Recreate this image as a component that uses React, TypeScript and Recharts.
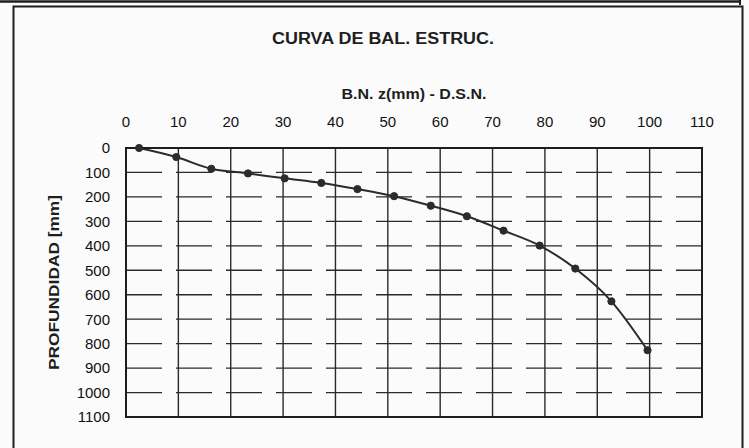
import {
  LineChart,
  Line,
  XAxis,
  YAxis,
  CartesianGrid,
  ReferenceArea,
} from 'recharts';

// values
const deflection = [2.5, 9.6, 16.3, 23.3, 30.3, 37.3, 44.2, 51.2, 58.2, 65.1, 72.1, 79.0, 85.8, 92.7, 99.6];
const depth = [0, 37, 85, 104, 124, 143, 168, 197, 236, 279, 338, 399, 493, 627, 827];

const xTicks = [0, 10, 20, 30, 40, 50, 60, 70, 80, 90, 100, 110];
const yTicks = [0, 100, 200, 300, 400, 500, 600, 700, 800, 900, 1000, 1100];

const title = 'CURVA DE BAL. ESTRUC.';
const xLabel = 'B.N. z(mm) - D.S.N.';
const yLabel = 'PROFUNDIDAD [mm]';

const ink = '#1e1e1e';
const font = 'Liberation Sans, Arial, sans-serif';

export default function App() {
  const data = deflection.map((x, i) => ({ x, depth: depth[i] }));

  return (
    <div
      style={{
        position: 'absolute',
        left: 0,
        top: 0,
        width: 749,
        height: 448,
        background: '#fbfbfb',
        overflow: 'hidden',
        fontFamily: font,
      }}
    >
      <LineChart
        width={749}
        height={448}
        data={data}
        margin={{ top: 118, right: 47, bottom: 31, left: 0 }}
      >
        <CartesianGrid horizontal={false} stroke="#2a2a2a" strokeWidth={1.4} />
        <CartesianGrid vertical={false} stroke="#2a2a2a" strokeWidth={1.3} strokeDasharray="36 14" />
        <XAxis
          type="number"
          dataKey="x"
          orientation="top"
          domain={[0, 110]}
          ticks={xTicks}
          height={30}
          tickSize={0}
          tickMargin={21}
          axisLine={{ stroke: ink, strokeWidth: 1.6 }}
          tick={{ fill: '#111', fontSize: 15, fontFamily: font }}
          interval={0}
        />
        <YAxis
          type="number"
          reversed
          domain={[0, 1100]}
          ticks={yTicks}
          width={126}
          tickSize={0}
          tickMargin={16}
          axisLine={{ stroke: ink, strokeWidth: 1.6 }}
          tick={{ fill: '#111', fontSize: 15, fontFamily: font }}
          interval={0}
        />
        <ReferenceArea
          x1={0}
          x2={110}
          y1={0}
          y2={1100}
          fill="none"
          fillOpacity={0}
          stroke={ink}
          strokeWidth={2}
        />
        <Line
          type="monotone"
          dataKey="depth"
          stroke="#2b2b2b"
          strokeWidth={2}
          dot={{ r: 3.6, fill: '#2b2b2b', stroke: '#2b2b2b', strokeWidth: 1 }}
          isAnimationActive={false}
        />
      </LineChart>

      <svg
        width={749}
        height={448}
        style={{ position: 'absolute', left: 0, top: 0, pointerEvents: 'none' }}
      >
        {/* outer frame of the scanned sheet */}
        <line x1={0} y1={1.5} x2={741} y2={1.5} stroke={ink} strokeWidth={2.5} />
        <line x1={740} y1={0} x2={740} y2={5} stroke={ink} strokeWidth={2} />
        <rect x={13.5} y={6.5} width={729} height={460} fill="none" stroke={ink} strokeWidth={2} />

        <text
          x={383}
          y={43.5}
          textAnchor="middle"
          fontSize={16}
          fontWeight="bold"
          fill={ink}
          fontFamily={font}
          textLength={222}
          lengthAdjust="spacingAndGlyphs"
        >
          {title}
        </text>
        <text
          x={414}
          y={98.5}
          textAnchor="middle"
          fontSize={14}
          fontWeight="bold"
          fill={ink}
          fontFamily={font}
          textLength={145}
          lengthAdjust="spacingAndGlyphs"
        >
          {xLabel}
        </text>
        <text
          x={0}
          y={0}
          transform="translate(58.5, 282.5) rotate(-90)"
          textAnchor="middle"
          fontSize={14}
          fontWeight="bold"
          fill={ink}
          fontFamily={font}
          textLength={175}
          lengthAdjust="spacingAndGlyphs"
        >
          {yLabel}
        </text>
      </svg>
    </div>
  );
}
